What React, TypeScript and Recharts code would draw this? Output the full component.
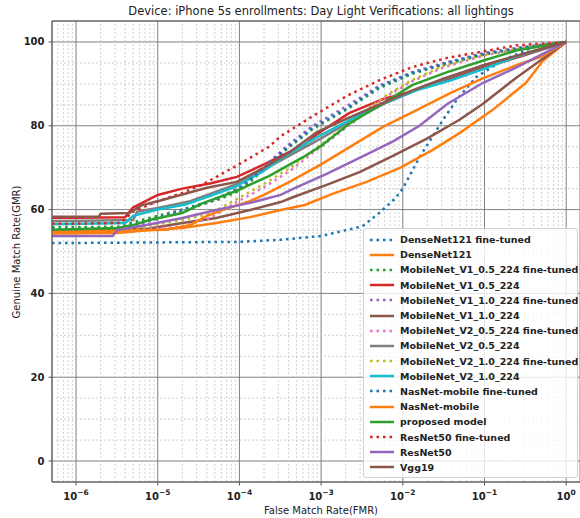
import { ComposedChart, Line, XAxis, YAxis, CartesianGrid, ReferenceLine } from "recharts";

type Pt = [number, number];

// FMR (x, log scale) / GMR (y, %)
const denseNetFt: Pt[] = [
  [5.08e-7, 52], [1e-4, 52.3], [3.2e-4, 52.8], [1e-3, 53.7], [3.2e-3, 56], [5.0e-3, 59],
  [7.9e-3, 62.5], [1e-2, 65], [1.6e-2, 72.5], [3.2e-2, 81.8], [4.7e-2, 86.5], [7.9e-2, 91.6],
  [0.17, 95.7], [0.4, 98.8], [1, 100],
];
const denseNet: Pt[] = [
  [5.08e-7, 54.3], [3.2e-6, 54.4], [8.1e-6, 55.1], [2.0e-5, 55.6], [5.2e-5, 56.8], [1.35e-4, 58.2],
  [3.2e-4, 59.9], [6.3e-4, 61.1], [1.4e-3, 63.8], [3.6e-3, 66.6], [9.1e-3, 69.9], [2.3e-2, 74.2],
  [5.0e-2, 78.3], [0.126, 83.8], [0.32, 90.2], [0.52, 95.5], [1, 100],
];
const mbV1_05Ft: Pt[] = [
  [5.08e-7, 55.8], [3.5e-6, 55.9], [5.0e-6, 57], [1e-5, 58.5], [2.5e-5, 60.5], [5.8e-5, 62.5],
  [1e-4, 64.5], [2.0e-4, 69.5], [4.0e-4, 74.8], [7.9e-4, 79.2], [2.1e-3, 84], [5.2e-3, 89],
  [1.3e-2, 92.4], [3.5e-2, 94.8], [0.1, 97], [0.32, 98.7], [1, 100],
];
const mbV1_05: Pt[] = [
  [5.08e-7, 58], [4.0e-6, 58.2], [5.0e-6, 60.5], [7.1e-6, 62], [1e-5, 63.5], [2.0e-5, 65],
  [4.5e-5, 66.3], [9.3e-5, 67.8], [2.0e-4, 70.8], [3.4e-4, 73], [6.3e-4, 75.5], [8.9e-4, 78],
  [2.2e-3, 83], [5.8e-3, 86.4], [1.12e-2, 87.8], [3.8e-2, 91.2], [9.5e-2, 93.8], [0.25, 96.3], [1, 100],
];
const mbV1_10Ft: Pt[] = [
  [5.08e-7, 55], [4.0e-6, 55.2], [6.3e-6, 56.5], [1.26e-5, 58.5], [2.5e-5, 60], [5.8e-5, 63],
  [1e-4, 65.3], [2.0e-4, 70.3], [4.0e-4, 75.5], [7.9e-4, 80], [2.1e-3, 84.8], [5.2e-3, 89.6],
  [1.3e-2, 92.8], [3.5e-2, 95.2], [0.1, 97.4], [0.32, 98.9], [1, 100],
];
const mbV1_10: Pt[] = [
  [5.08e-7, 54.8], [7.9e-6, 55.5], [2.0e-5, 56.8], [5.2e-5, 58], [1.35e-4, 59.9], [3.2e-4, 61.8],
  [4.6e-4, 63], [1.17e-3, 65.9], [3.0e-3, 69], [7.9e-3, 73], [2.0e-2, 77], [5.0e-2, 81.5],
  [9.5e-2, 85.2], [0.25, 91.6], [1, 100],
];
const mbV2_05Ft: Pt[] = [
  [5.08e-7, 54.8], [5.0e-6, 55], [1e-5, 55.6], [2.0e-5, 56], [4.4e-5, 58], [9.3e-5, 61.8],
  [1.95e-4, 65.2], [4.2e-4, 69.3], [7.9e-4, 73.5], [1.6e-3, 78], [3.2e-3, 82.5], [6.3e-3, 87],
  [1.26e-2, 90.5], [3.2e-2, 94], [0.1, 96.8], [0.32, 98.7], [1, 100],
];
const mbV2_05: Pt[] = [
  [5.08e-7, 57.2], [5.0e-6, 57.5], [5.6e-6, 59.5], [1e-5, 60.4], [2.5e-5, 62], [1e-4, 66.3],
  [2.0e-4, 69.5], [4.2e-4, 73], [1e-3, 77], [2.5e-3, 81.5], [6.3e-3, 85.5], [1.6e-2, 88.8],
  [4.0e-2, 91.8], [0.1, 94.5], [0.32, 97.3], [1, 100],
];
const mbV2_10Ft: Pt[] = [
  [5.08e-7, 55.3], [5.0e-6, 55.4], [1e-5, 56.5], [2.0e-5, 57.5], [4.4e-5, 59], [9.3e-5, 62.5],
  [1.95e-4, 66], [4.2e-4, 70], [7.9e-4, 74], [1.6e-3, 78.5], [3.2e-3, 83], [6.3e-3, 87.3],
  [1.26e-2, 90.8], [3.2e-2, 94.3], [0.1, 97], [0.32, 98.8], [1, 100],
];
const mbV2_10: Pt[] = [
  [5.08e-7, 56.5], [4.0e-6, 56.8], [5.0e-6, 58.5], [1e-5, 60], [2.2e-5, 61.2], [4.0e-5, 63],
  [8.9e-5, 65.4], [1.9e-4, 69], [3.4e-4, 72.5], [8.9e-4, 77.3], [2.5e-3, 81.8], [5.8e-3, 85.4],
  [1.5e-2, 88.5], [3.8e-2, 90.8], [9.5e-2, 93.5], [0.25, 96.5], [1, 100],
];
const nasNetFt: Pt[] = [
  [5.08e-7, 55.4], [3.2e-6, 55.6], [5.0e-6, 56.5], [1e-5, 58], [2.5e-5, 60.6], [5.8e-5, 62.8],
  [1e-4, 65], [2.0e-4, 70], [4.0e-4, 75], [7.9e-4, 79.5], [2.1e-3, 84.2], [5.2e-3, 89.3],
  [1.3e-2, 92.6], [3.5e-2, 95], [0.1, 97.2], [0.32, 98.8], [1, 100],
];
const nasNet: Pt[] = [
  [5.08e-7, 54.6], [1.26e-5, 55.2], [2.5e-5, 56.3], [4.0e-5, 58.5], [7.1e-5, 60.3], [1.26e-4, 61.8],
  [2.0e-4, 63.5], [4.0e-4, 66.5], [1e-3, 70.8], [2.5e-3, 75.5], [5.8e-3, 79.8], [1.5e-2, 83.8],
  [3.8e-2, 87.8], [9.5e-2, 91.3], [0.25, 94.5], [0.5, 96.5], [1, 100],
];
const proposed: Pt[] = [
  [5.08e-7, 55.2], [3.2e-6, 55.6], [5.0e-6, 56.3], [7.9e-6, 57.5], [2.0e-5, 59.2], [3.5e-5, 61.5],
  [9.3e-5, 64.5], [2.3e-4, 68], [6.0e-4, 72.5], [1e-3, 75.2], [2.2e-3, 80.5], [5.8e-3, 85.4],
  [1.3e-2, 89.7], [3.5e-2, 92.8], [9.5e-2, 95.5], [0.25, 98], [1, 100],
];
const resNetFt: Pt[] = [
  [5.08e-7, 56.6], [3.5e-6, 56.8], [5.0e-6, 59.5], [1e-5, 62], [2.0e-5, 64], [3.5e-5, 65.9],
  [5.8e-5, 68.3], [9.3e-5, 70.5], [2.3e-4, 75], [3.2e-4, 77.5], [7.9e-4, 82.3], [2.1e-3, 87.2],
  [5.2e-3, 90.9], [1.3e-2, 94], [3.5e-2, 96.2], [0.1, 97.8], [0.25, 99.2], [1, 100],
];
const resNet: Pt[] = [
  [5.08e-7, 53.7], [2.8e-6, 53.7], [3.2e-6, 55.1], [8.1e-6, 56.5], [2.0e-5, 58], [5.2e-5, 59.9],
  [1.35e-4, 61.6], [3.2e-4, 63.5], [4.6e-4, 65], [1.17e-3, 68.5], [3.0e-3, 72.4], [7.6e-3, 76.3],
  [1.6e-2, 80], [3.5e-2, 85.2], [9.5e-2, 90.2], [0.25, 94], [0.63, 98], [1, 100],
];
const vgg19: Pt[] = [
  [5.08e-7, 58.3], [1.9e-6, 58.3], [2.0e-6, 59], [4.5e-6, 59.2], [6.3e-6, 61], [1e-5, 62],
  [4.0e-5, 65.2], [9.3e-5, 66.6], [2.0e-4, 70], [4.2e-4, 73.8], [8.9e-4, 78.5], [2.0e-3, 81.6],
  [5.0e-3, 85], [1.26e-2, 88.3], [3.2e-2, 91.3], [0.1, 94.5], [0.32, 97.3], [1, 100],
];

const SERIES = [
  { name: "DenseNet121 fine-tuned", color: "#1f77b4", dotted: true, pts: denseNetFt },
  { name: "DenseNet121", color: "#ff7f0e", dotted: false, pts: denseNet },
  { name: "MobileNet_V1_0.5_224 fine-tuned", color: "#2ca02c", dotted: true, pts: mbV1_05Ft },
  { name: "MobileNet_V1_0.5_224", color: "#d62728", dotted: false, pts: mbV1_05 },
  { name: "MobileNet_V1_1.0_224 fine-tuned", color: "#9467bd", dotted: true, pts: mbV1_10Ft },
  { name: "MobileNet_V1_1.0_224", color: "#8c564b", dotted: false, pts: mbV1_10 },
  { name: "MobileNet_V2_0.5_224 fine-tuned", color: "#e377c2", dotted: true, pts: mbV2_05Ft },
  { name: "MobileNet_V2_0.5_224", color: "#7f7f7f", dotted: false, pts: mbV2_05 },
  { name: "MobileNet_V2_1.0_224 fine-tuned", color: "#bcbd22", dotted: true, pts: mbV2_10Ft },
  { name: "MobileNet_V2_1.0_224", color: "#17becf", dotted: false, pts: mbV2_10 },
  { name: "NasNet-mobile fine-tuned", color: "#1f77b4", dotted: true, pts: nasNetFt },
  { name: "NasNet-mobile", color: "#ff7f0e", dotted: false, pts: nasNet },
  { name: "proposed model", color: "#2ca02c", dotted: false, pts: proposed },
  { name: "ResNet50 fine-tuned", color: "#d62728", dotted: true, pts: resNetFt },
  { name: "ResNet50", color: "#9467bd", dotted: false, pts: resNet },
  { name: "Vgg19", color: "#8c564b", dotted: false, pts: vgg19 },
];

const X_DOMAIN = [5.08e-7, 1.476];
const X_TICKS = [1e-6, 1e-5, 1e-4, 1e-3, 1e-2, 1e-1, 1];
const Y_TICKS = [0, 20, 40, 60, 80, 100];
const Y_MINOR = [5, 10, 15, 25, 30, 35, 45, 50, 55, 65, 70, 75, 85, 90, 95];
const X_MINOR: number[] = [];
for (let e = -7; e <= 0; e++) {
  for (let m = 2; m <= 9; m++) {
    const v = m * Math.pow(10, e);
    if (v > X_DOMAIN[0] && v < X_DOMAIN[1]) X_MINOR.push(v);
  }
}

const DOT = "2.6 3.9";
const FONT = "DejaVu Sans, sans-serif";

function XTick({ x, y, payload }: any) {
  const exp = Math.round(Math.log10(payload.value));
  return (
    <text x={x} y={y + 12} textAnchor="middle" fontFamily={FONT} fontSize={10} fontWeight="bold" fill="#222">
      <tspan>10</tspan>
      <tspan dy={-5} fontSize={7.5}>{exp === 0 ? "0" : "\u2212" + Math.abs(exp)}</tspan>
    </text>
  );
}

function YTick({ x, y, payload }: any) {
  return (
    <text x={x - 2} y={y + 3.5} textAnchor="end" fontFamily={FONT} fontSize={10} fontWeight="bold" fill="#222">
      {payload.value}
    </text>
  );
}

export default function App() {
  return (
    <div style={{ position: "relative", width: 580, height: 518, fontFamily: FONT, color: "#222", overflow: "hidden" }}>
      <style>{"body{margin:0;overflow:hidden}"}</style>
      <ComposedChart width={580} height={518} margin={{ top: 21, right: 0, bottom: 0, left: 0 }}>
        <CartesianGrid stroke="#808080" strokeWidth={1} />
        {X_MINOR.map((v) => (
          <ReferenceLine key={"xm" + v} x={v} stroke="#c4c4c4" strokeDasharray="2 2" strokeWidth={0.8} />
        ))}
        {Y_MINOR.map((v) => (
          <ReferenceLine key={"ym" + v} y={v} stroke="#c4c4c4" strokeDasharray="2 2" strokeWidth={0.8} />
        ))}
        <ReferenceLine y={105} stroke="#555" strokeWidth={1} />
        <XAxis
          dataKey="x"
          type="number"
          scale="log"
          domain={X_DOMAIN}
          allowDataOverflow
          ticks={X_TICKS}
          tick={<XTick />}
          tickSize={3.5}
          height={36}
          stroke="#555"
          interval={0}
        />
        <YAxis
          type="number"
          domain={[-5, 105]}
          allowDataOverflow
          ticks={Y_TICKS}
          tick={<YTick />}
          tickSize={3.5}
          width={52}
          stroke="#555"
          interval={0}
        />
        {SERIES.map((s) => (
          <Line
            key={s.name}
            name={s.name}
            data={s.pts.map(([x, y]) => ({ x, y }))}
            dataKey="y"
            type="linear"
            stroke={s.color}
            strokeWidth={2.5}
            strokeDasharray={s.dotted ? DOT : undefined}
            dot={false}
            activeDot={false}
            isAnimationActive={false}
          />
        ))}
      </ComposedChart>

      <div style={{ position: "absolute", left: 21, top: 4, width: 600, textAlign: "center", fontSize: 11.5, whiteSpace: "nowrap" }}>
        Device: iPhone 5s enrollments: Day Light Verifications: all lightings
      </div>
      <div style={{ position: "absolute", left: 321, top: 510, transform: "translate(-50%,-50%)", fontSize: 10, whiteSpace: "nowrap" }}>
        False Match Rate(FMR)
      </div>
      <div style={{ position: "absolute", left: 16, top: 252, transform: "translate(-50%,-50%) rotate(-90deg)", fontSize: 10, whiteSpace: "nowrap" }}>
        Genuine Match Rate(GMR)
      </div>

      <div
        style={{
          position: "absolute", left: 363, top: 228, width: 215, height: 250, boxSizing: "border-box",
          background: "rgba(255,255,255,0.8)", border: "1px solid #d0d0d0", borderRadius: 3, padding: "3px 0 0 6px",
        }}
      >
        {SERIES.map((s) => (
          <div key={s.name} style={{ display: "flex", alignItems: "center", height: 15.2 }}>
            <svg width={24} height={6} style={{ flex: "none" }}>
              <line x1={0} y1={3} x2={24} y2={3} stroke={s.color} strokeWidth={2.5} strokeDasharray={s.dotted ? DOT : undefined} />
            </svg>
            <span style={{ marginLeft: 6, fontSize: 9.5, fontWeight: "bold", whiteSpace: "nowrap" }}>{s.name}</span>
          </div>
        ))}
      </div>
    </div>
  );
}
